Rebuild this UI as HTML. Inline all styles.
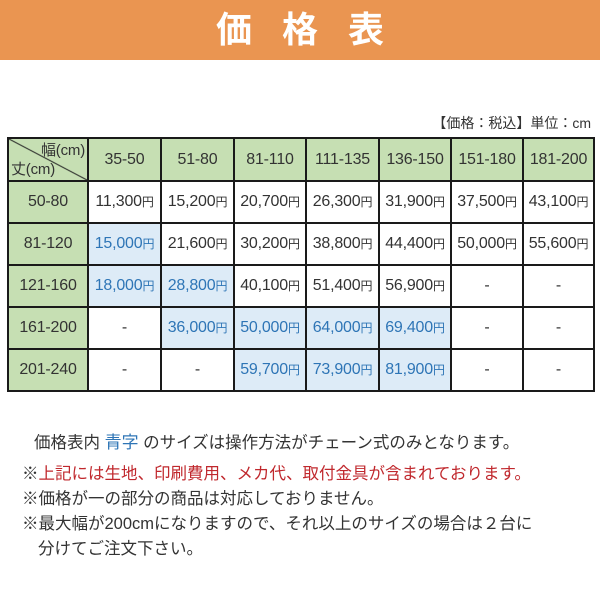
<!DOCTYPE html>
<html><head><meta charset="utf-8"><style>
body{margin:0;width:600px;height:600px;background:#fff;position:relative;overflow:hidden;font-family:"Liberation Sans","Noto Sans CJK JP",sans-serif;color:#222}
.hd{position:absolute;left:0;top:0;width:600px;height:60px;background:#ea9551;color:#fff;font-weight:bold;font-size:36px;text-align:center;line-height:60px;letter-spacing:30px;text-indent:30px}
.unit{position:absolute;right:9px;top:113px;font-size:14px;color:#333}
table{position:absolute;left:7px;top:137px;border-collapse:collapse;table-layout:fixed}
td{border:2px solid #1a1a1a;height:40px;text-align:center;font-size:16px;padding:0;white-space:nowrap;letter-spacing:-0.2px;color:#333}
tr:first-child td{height:41px}
.g{background:#c6dfb3}
td.b{background:#ddebf7;color:#2e75b6}
.y{font-size:12px}
.n{position:absolute;font-size:16.5px;color:#333;left:0;white-space:nowrap}
</style></head><body>
<div class="hd">価格表</div>
<div class="unit">【価格：税込】単位：cm</div>
<table>
<colgroup><col style="width:80px"><col style="width:73px"><col style="width:73px"><col style="width:72px"><col style="width:73px"><col style="width:72px"><col style="width:72px"><col style="width:71px"></colgroup>
<tr><td class="g" style="position:relative;background:#c6dfb3 linear-gradient(to top right,transparent calc(50% - 1px),#222 50%,transparent calc(50% + 1px))"><span style="position:absolute;right:2px;top:0;font-size:15px">幅(cm)</span><span style="position:absolute;left:2px;bottom:1px;font-size:15px">丈(cm)</span></td><td class="g">35-50</td><td class="g">51-80</td><td class="g">81-110</td><td class="g">111-135</td><td class="g">136-150</td><td class="g">151-180</td><td class="g">181-200</td></tr>
<tr><td class="g">50-80</td><td>11,300<span class="y">円</span></td><td>15,200<span class="y">円</span></td><td>20,700<span class="y">円</span></td><td>26,300<span class="y">円</span></td><td>31,900<span class="y">円</span></td><td>37,500<span class="y">円</span></td><td>43,100<span class="y">円</span></td></tr>
<tr><td class="g">81-120</td><td class="b">15,000<span class="y">円</span></td><td>21,600<span class="y">円</span></td><td>30,200<span class="y">円</span></td><td>38,800<span class="y">円</span></td><td>44,400<span class="y">円</span></td><td>50,000<span class="y">円</span></td><td>55,600<span class="y">円</span></td></tr>
<tr><td class="g">121-160</td><td class="b">18,000<span class="y">円</span></td><td class="b">28,800<span class="y">円</span></td><td>40,100<span class="y">円</span></td><td>51,400<span class="y">円</span></td><td>56,900<span class="y">円</span></td><td>-</td><td>-</td></tr>
<tr><td class="g">161-200</td><td>-</td><td class="b">36,000<span class="y">円</span></td><td class="b">50,000<span class="y">円</span></td><td class="b">64,000<span class="y">円</span></td><td class="b">69,400<span class="y">円</span></td><td>-</td><td>-</td></tr>
<tr><td class="g">201-240</td><td>-</td><td>-</td><td class="b">59,700<span class="y">円</span></td><td class="b">73,900<span class="y">円</span></td><td class="b">81,900<span class="y">円</span></td><td>-</td><td>-</td></tr>
</table>
<div class="n" style="left:34px;top:428px">価格表内 <span style="color:#2e75b6;font-size:17px">青字</span> のサイズは操作方法がチェーン式のみとなります。</div>
<div class="n" style="left:22px;top:460px">※<span style="color:#c0282d">上記には生地、印刷費用、メカ代、取付金具が含まれております。</span></div>
<div class="n" style="left:22px;top:485px">※価格が一の部分の商品は対応しておりません。</div>
<div class="n" style="left:22px;top:510px">※最大幅が200cmになりますので、それ以上のサイズの場合は２台に</div>
<div class="n" style="left:38px;top:535px">分けてご注文下さい。</div>
</body></html>
